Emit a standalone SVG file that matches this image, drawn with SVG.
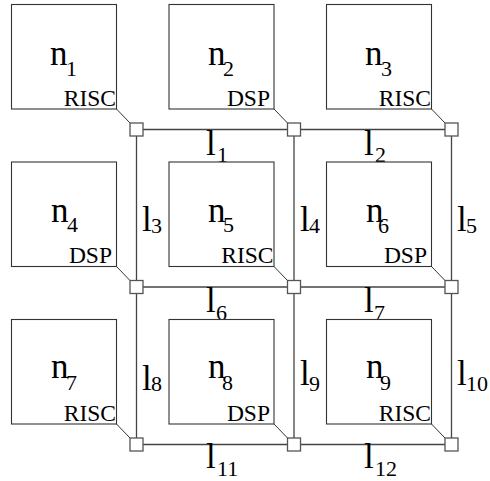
<svg xmlns="http://www.w3.org/2000/svg" width="490" height="481" viewBox="0 0 490 481">
  <style>
    .pe { fill: #fff; stroke: #333; stroke-width: 1.1; }
    .rt { fill: #fff; stroke: #555; stroke-width: 1.3; }
    .ln { stroke: #444; stroke-width: 1.3; fill: none; }
    .tap { stroke: #333; stroke-width: 1; fill: none; }
    text { font-family: "Liberation Serif", "Times New Roman", serif; fill: #000; }
    .big { font-size: 35px; }
    .sub { font-size: 22px; }
    .kind { font-size: 23.5px; text-anchor: end; }
  </style>
  <rect width="490" height="481" fill="#fff"/>

  <!-- mesh links -->
  <g id="links">
    <line class="ln" x1="136.5" y1="129.5" x2="451.5" y2="129.5"/>
    <line class="ln" x1="136.5" y1="287" x2="451.5" y2="287"/>
    <line class="ln" x1="136.5" y1="444.5" x2="451.5" y2="444.5"/>
    <line class="ln" x1="136.5" y1="129.5" x2="136.5" y2="444.5"/>
    <line class="ln" x1="294" y1="129.5" x2="294" y2="444.5"/>
    <line class="ln" x1="451.5" y1="129.5" x2="451.5" y2="444.5"/>
    <!-- taps from each node corner to its router -->
    <line class="tap" x1="116.5" y1="109" x2="130" y2="123"/>
    <line class="tap" x1="274" y1="109" x2="287.5" y2="123"/>
    <line class="tap" x1="431.5" y1="109" x2="445" y2="123"/>
    <line class="tap" x1="116.5" y1="266.5" x2="130" y2="280.5"/>
    <line class="tap" x1="274" y1="266.5" x2="287.5" y2="280.5"/>
    <line class="tap" x1="431.5" y1="266.5" x2="445" y2="280.5"/>
    <line class="tap" x1="116.5" y1="424" x2="130" y2="438"/>
    <line class="tap" x1="274" y1="424" x2="287.5" y2="438"/>
    <line class="tap" x1="431.5" y1="424" x2="445" y2="438"/>
  </g>

  <!-- link labels -->
  <g id="link-labels">
    <text class="big" x="206" y="155">l<tspan class="sub" x="217" y="162">1</tspan></text>
    <text class="big" x="364" y="155">l<tspan class="sub" x="375" y="162">2</tspan></text>
    <text class="big" x="142" y="231">l<tspan class="sub" x="151" y="233">3</tspan></text>
    <text class="big" x="300" y="231">l<tspan class="sub" x="309" y="233">4</tspan></text>
    <text class="big" x="457" y="231">l<tspan class="sub" x="466" y="233">5</tspan></text>
    <text class="big" x="206" y="312">l<tspan class="sub" x="216" y="320">6</tspan></text>
    <text class="big" x="364" y="312">l<tspan class="sub" x="374" y="320">7</tspan></text>
    <text class="big" x="142" y="390">l<tspan class="sub" x="151" y="391">8</tspan></text>
    <text class="big" x="300" y="385">l<tspan class="sub" x="309" y="391">9</tspan></text>
    <text class="big" x="457" y="385">l<tspan class="sub" x="466" y="391">10</tspan></text>
    <text class="big" x="206" y="468">l<tspan class="sub" x="217" y="476">11</tspan></text>
    <text class="big" x="364" y="468">l<tspan class="sub" x="375" y="476">12</tspan></text>
  </g>

  <!-- processing elements -->
  <g id="n1">
    <rect class="pe" x="11.5" y="4.5" width="105" height="104.5"/>
    <text class="big" x="50" y="65">n<tspan class="sub" x="66" y="76">1</tspan></text>
    <text class="kind" x="116" y="105.5">RISC</text>
  </g>
  <g id="n2">
    <rect class="pe" x="169" y="4.5" width="105" height="104.5"/>
    <text class="big" x="208" y="65">n<tspan class="sub" x="223" y="76">2</tspan></text>
    <text class="kind" x="270" y="105.5">DSP</text>
  </g>
  <g id="n3">
    <rect class="pe" x="326.5" y="4.5" width="105" height="104.5"/>
    <text class="big" x="365" y="65">n<tspan class="sub" x="381" y="76">3</tspan></text>
    <text class="kind" x="431" y="105.5">RISC</text>
  </g>
  <g id="n4">
    <rect class="pe" x="11.5" y="162" width="105" height="104.5"/>
    <text class="big" x="51" y="222">n<tspan class="sub" x="67" y="232">4</tspan></text>
    <text class="kind" x="112" y="263">DSP</text>
  </g>
  <g id="n5">
    <rect class="pe" x="169" y="162" width="105" height="104.5"/>
    <text class="big" x="208" y="222">n<tspan class="sub" x="223" y="232">5</tspan></text>
    <text class="kind" x="273.5" y="263">RISC</text>
  </g>
  <g id="n6">
    <rect class="pe" x="326.5" y="162" width="105" height="104.5"/>
    <text class="big" x="366" y="222">n<tspan class="sub" x="378" y="233">6</tspan></text>
    <text class="kind" x="427" y="263">DSP</text>
  </g>
  <g id="n7">
    <rect class="pe" x="11.5" y="319.5" width="105" height="104.5"/>
    <text class="big" x="51" y="378">n<tspan class="sub" x="66" y="390">7</tspan></text>
    <text class="kind" x="116" y="420.5">RISC</text>
  </g>
  <g id="n8">
    <rect class="pe" x="169" y="319.5" width="105" height="104.5"/>
    <text class="big" x="208" y="378">n<tspan class="sub" x="222" y="390">8</tspan></text>
    <text class="kind" x="270" y="420.5">DSP</text>
  </g>
  <g id="n9">
    <rect class="pe" x="326.5" y="319.5" width="105" height="104.5"/>
    <text class="big" x="366" y="378">n<tspan class="sub" x="380" y="390">9</tspan></text>
    <text class="kind" x="431" y="420.5">RISC</text>
  </g>

  <!-- routers -->
  <g id="routers">
    <rect class="rt" x="130" y="123" width="13" height="13"/>
    <rect class="rt" x="287.5" y="123" width="13" height="13"/>
    <rect class="rt" x="445" y="123" width="13" height="13"/>
    <rect class="rt" x="130" y="280.5" width="13" height="13"/>
    <rect class="rt" x="287.5" y="280.5" width="13" height="13"/>
    <rect class="rt" x="445" y="280.5" width="13" height="13"/>
    <rect class="rt" x="130" y="438" width="13" height="13"/>
    <rect class="rt" x="287.5" y="438" width="13" height="13"/>
    <rect class="rt" x="445" y="438" width="13" height="13"/>
  </g>
</svg>
